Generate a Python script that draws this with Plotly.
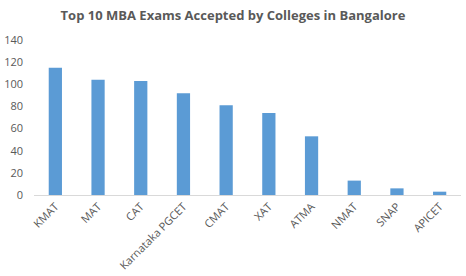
import plotly.graph_objects as go

categories = ["KMAT", "MAT", "CAT", "Karnataka PGCET", "CMAT", "XAT", "ATMA", "NMAT", "SNAP", "APICET"]
values = [115, 104, 103, 92, 81, 74, 53, 13, 6, 3]
y_ticks = [0, 20, 40, 60, 80, 100, 120, 140]

fig = go.Figure(go.Bar(x=categories, y=values, marker_color="#5B9BD5", marker_line_width=0))

fig.update_layout(
    width=466, height=276,
    margin=dict(l=34, r=5, t=40, b=81),
    paper_bgcolor="white", plot_bgcolor="white",
    bargap=0.69,
    showlegend=False,
    title=dict(text="<b>Top 10 MBA Exams Accepted by Colleges in Bangalore</b>",
               x=0.5, xanchor="center", y=0.945, yanchor="middle",
               font=dict(family="Open Sans", size=13, color="#595959")),
    font=dict(family="Open Sans", size=11, color="#595959"),
)
fig.update_xaxes(tickangle=-45, showline=True, linecolor="#D9D9D9", linewidth=1,
                 showgrid=False, ticks="", tickfont=dict(size=11, color="#595959"))
fig.update_yaxes(range=[0, 140], tickvals=y_ticks, showgrid=False, zeroline=False,
                 showline=False, ticks="", ticklabelstandoff=10,
                 tickfont=dict(size=11, color="#595959"))

fig.write_html("out.html")
